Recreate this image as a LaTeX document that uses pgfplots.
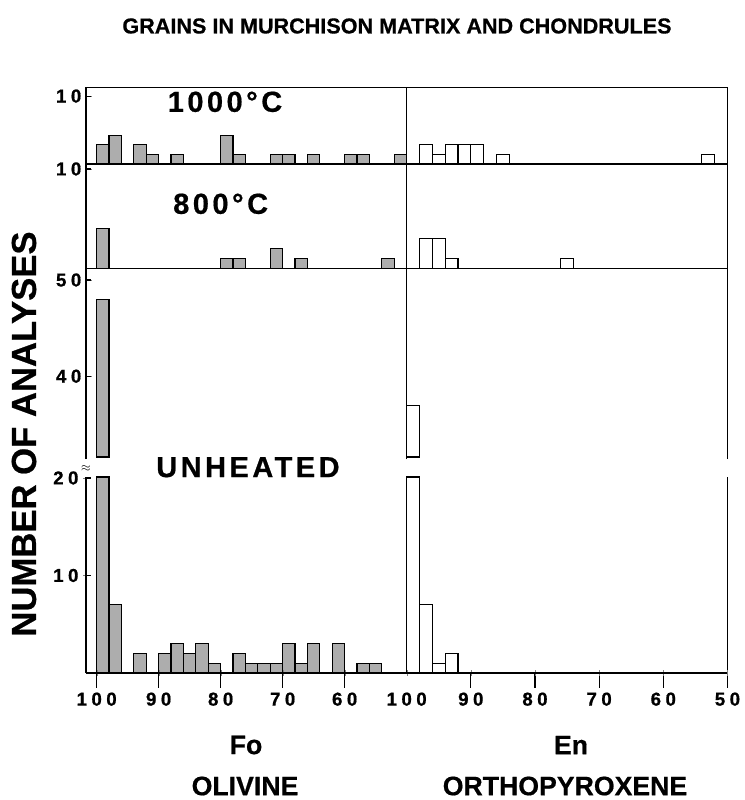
\documentclass[border=0pt]{standalone}
\usepackage{pgfplots}
\pgfplotsset{compat=1.18}
\usepackage{fontspec}
\setmainfont{Liberation Sans}[BoldFeatures={FakeBold=0.6}]
\newfontfamily\tickfont[LetterSpace=24, BoldFeatures={FakeBold=0.8}]{Liberation Sans}
\newfontfamily\panelfont[LetterSpace=12, BoldFeatures={FakeBold=0.6}]{Liberation Sans}
\definecolor{oliv}{gray}{0.68}
\tikzset{panel/.style={font=\panelfont\bfseries\fontsize{21.75}{26}\selectfont}}
\begin{document}
\begin{tikzpicture}
\pgfplotsset{
  noarrow/.style={axis line style={-},
    every outer x axis line/.append style={-},
    every outer y axis line/.append style={-},
    every inner x axis line/.append style={-},
    every inner y axis line/.append style={-}},
  base/.style={scale only axis, x dir=reverse, xmin=50, clip=false,
    axis line style={line width=1pt},
    tick align=inside,
    tick label style={font=\tickfont\bfseries\fontsize{14}{16}\selectfont},
    /pgf/number format/assume math mode=true,
    xtick=\empty, ytick=\empty, anchor=south west},
  lcol/.style={base, xmax=101.72, width=240.5pt, at={(64.5pt,#1)}},
  rcol/.style={base, xmax=100, width=240.6pt, at={(305pt,#1)}},
  xticksonly/.style={axis x line=bottom, axis y line=none, noarrow,
    xticklabel style={yshift=-9pt}},
  tk/.style={black, line width=0.8pt, unbounded coords=jump},
  ol/.style={ybar, bar width=2, bar shift=0pt, draw=black, fill=oliv, line width=0.9pt},
  en/.style={ybar, bar width=2, bar shift=0pt, draw=black, fill=white, line width=0.9pt},
  olp/.style={draw=black, fill=oliv, line width=0.9pt},
  enp/.style={draw=black, fill=white, line width=0.9pt},
}
\path[use as bounding box] (0,0) rectangle (558pt,-600pt);

% ---------- 1000 C ----------
\begin{axis}[lcol=-123pt, height=57.4pt, ymin=0, ymax=8, ytick={7.1}, yticklabels={10}, ytick pos=left]
\addplot[ol] coordinates {(99,2)(97,3)(93,2)(91,1)(87,1)(79,3)(77,1)(71,1)(69,1)(65,1)(59,1)(57,1)(51,1)};
\addplot[tk] coordinates {(101.72,7.1)(100.97,7.1)};
\node[panel] at (axis cs:79.3,6.5) {1000°C};
\end{axis}
\begin{axis}[rcol=-123pt, height=57.4pt, ymin=0, ymax=8]
\addplot[en] coordinates {(97,2)(95,1)(93,2)(91,2)(89,2)(85,1)(53,1)};
\end{axis}

% ---------- 800 C ----------
\begin{axis}[lcol=-201.4pt, height=78.4pt, ymin=0, ymax=10.5, ytick={10}, ytick pos=left]
\addplot[ol] coordinates {(99,4)(79,1)(77,1)(71,2)(67,1)(53,1)};
\addplot[tk] coordinates {(101.72,10)(100.97,10)};
\node[panel] at (axis cs:80,6.5) {800°C};
\end{axis}
\begin{axis}[rcol=-201.4pt, height=78.4pt, ymin=0, ymax=10.5]
\addplot[en] coordinates {(97,3)(95,3)(93,1)(75,1)};
\end{axis}

% ---------- Unheated, upper part ----------
\begin{axis}[lcol=-344.25pt, height=142.9pt, ymin=31.4, ymax=51.2,
  axis x line=none, axis y line=box, ytick={40,50}, ytick pos=left, noarrow]
\addplot[olp] coordinates {(100,31.6)(100,48)(98,48)(98,31.6)} -- cycle;
\addplot[tk] coordinates {(101.72,40)(100.97,40)(100,nan)(101.72,50)(100.97,50)};
\end{axis}
\begin{axis}[rcol=-344.25pt, height=142.9pt, ymin=31.4, ymax=51.2,
  axis x line=none, axis y line=box, noarrow]
\addplot[enp] coordinates {(100,31.6)(100,37)(98,37)(98,31.6)} -- cycle;
\end{axis}

% ---------- Unheated, lower part ----------
\begin{axis}[lcol=-504.75pt, height=147pt, ymin=0, ymax=20.1,
  axis x line=bottom, axis y line=left, noarrow,
  ytick={10,20}]
\addplot[ol] coordinates {(99,20.1)(97,7)(93,2)(89,2)(87,3)(85,2)(83,3)(81,1)(77,2)(75,1)(73,1)(71,1)(69,3)(67,1)(65,3)(61,3)(57,1)(55,1)};
\addplot[tk] coordinates {(100,0)(100,-1.5)(100,nan)(90,0)(90,-1.5)(90,nan)(80,0)(80,-1.5)(80,nan)
  (70,0)(70,-1.5)(70,nan)(60,0)(60,-1.5)(60,nan)(101.72,10)(100.97,10)(100,nan)(101.72,20)(100.97,20)};
\node[panel] at (axis cs:75.6,21.1) {UNHEATED};
\node[font=\small] at (axis cs:101.72,21.0) {$\approx$};
\end{axis}
\begin{axis}[lcol=-504.75pt, height=147pt, ymin=0, ymax=20.1, xticksonly,
  xtick={60,70,80,90,100}]
\end{axis}
\begin{axis}[rcol=-504.75pt, height=147pt, ymin=0, ymax=20.1,
  axis x line=bottom, axis y line=right, noarrow]
\addplot[en] coordinates {(99,20.1)(97,7)(95,1)(93,2)};
\addplot[tk] coordinates {(90,0)(90,-1.5)(90,nan)(80,0)(80,-1.5)(80,nan)
  (70,0)(70,-1.5)(70,nan)(60,0)(60,-1.5)(60,nan)(50,0)(50,-1.5)};
\end{axis}
\begin{axis}[rcol=-504.75pt, height=147pt, ymin=0, ymax=20.1, xticksonly,
  xtick={50,60,70,80,90,100}]
\end{axis}

% ---------- texts ----------
\node[font=\bfseries\fontsize{16.2}{18}\selectfont] at (297.75pt,-19.5pt) {GRAINS IN MURCHISON MATRIX AND CHONDRULES};
\node[rotate=90, font=\bfseries\fontsize{26}{30}\selectfont] at (18pt,-325.5pt) {NUMBER OF ANALYSES};
\node[font=\bfseries\fontsize{20}{24}\selectfont] at (184.5pt,-558.75pt) {Fo};
\node[font=\bfseries\fontsize{20}{24}\selectfont] at (428.25pt,-558.75pt) {En};
\node[font=\bfseries\fontsize{20}{24}\selectfont] at (183.75pt,-589.5pt) {OLIVINE};
\node[font=\bfseries\fontsize{20}{24}\selectfont] at (423.75pt,-589.5pt) {ORTHOPYROXENE};
\end{tikzpicture}
\end{document}
